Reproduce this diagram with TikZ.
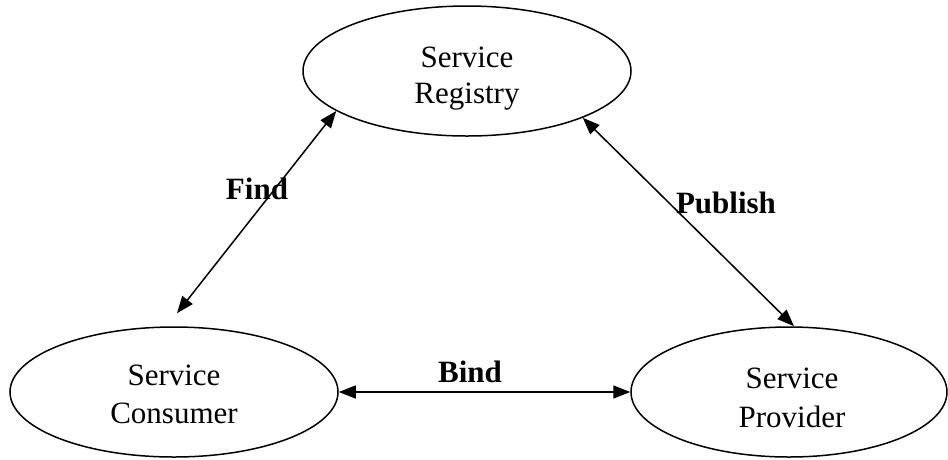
\documentclass[tikz,border=0pt]{standalone}
\usepackage{fontspec}
\setmainfont{Liberation Serif}
\usetikzlibrary{arrows.meta,shapes.geometric}
\begin{document}
\begin{tikzpicture}[x=1pt,y=-1pt,
  oval/.style={draw, ellipse, line width=1.5pt, minimum height=130pt, inner sep=0pt},
  txt/.style={font=\fontsize{31}{37}\selectfont, anchor=base, inner sep=0pt},
  btxt/.style={font=\fontsize{31}{37}\selectfont\bfseries, anchor=base, inner sep=0pt},
  link/.style={line width=1.5pt, {Triangle[length=17pt,width=13pt]}-{Triangle[length=17pt,width=13pt]}}]
\useasboundingbox (0,0) rectangle (948,459);
\node[oval, minimum width=328pt] (reg) at (467,71) {};
\node[oval, minimum width=328pt] (con) at (174,392) {};
\node[oval, minimum width=316pt] (pro) at (789,392) {};
% texts
\node[txt] (regA) at (467,67) {Service};
\begin{scope}
\clip (300,0) rectangle (640,110);
\node[txt] (regB) at (467,103) {Registry};
\end{scope}
\node[txt] (conA) at (174,385) {Service};
\node[txt] (conB) at (174,423) {Consumer};
\node[txt] (proA) at (792,388) {Service};
\node[txt] (proB) at (792,427) {Provider};
% connectors
\draw[link] (reg.197.5) -- ([shift={(3pt,13pt)}]con.north);
\draw[link] (reg.-22) -- ([shift={(5pt,0pt)}]pro.north);
\draw[link] (con.east) -- (pro.west);
% labels
\node[btxt] (find) at (257,199) {Find};
\node[btxt] (pub) at (726,213) {Publish};
\node[btxt] (bind) at (470,382) {Bind};
\end{tikzpicture}
\end{document}
